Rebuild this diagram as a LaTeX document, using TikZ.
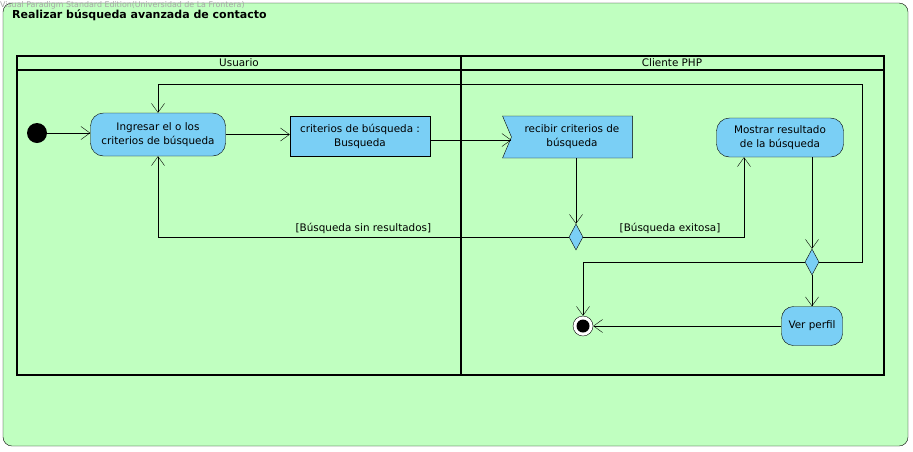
\documentclass[tikz,border=0pt]{standalone}
\usepackage{fontspec}
\setmainfont{DejaVu Sans}
\usetikzlibrary{arrows.meta,shapes.geometric,shapes.symbols}
\definecolor{fondo}{RGB}{192,255,192}
\definecolor{accion}{RGB}{122,207,245}
\tikzset{
    accion/.style ={
        rectangle,
        rounded corners =13pt,
        draw, fill=accion,
        align=center, inner sep=2pt,
        font=\fontsize{10.4}{14}\selectfont
    },
    objeto/.style ={
        rectangle,
        draw, fill=accion,
        align=center, inner sep=2pt,
        font=\fontsize{10.4}{14}\selectfont
    },
    recibe/.style ={
        signal, signal from=west, signal to=nowhere,
        signal pointer angle=134,
        draw, fill=accion,
        align=center,
        font=\fontsize{10.4}{14}\selectfont
    },
    decision/.style ={
        diamond, draw, fill=accion,
        inner sep=0pt, minimum width=14pt, minimum height=26pt
    },
    flecha/.style ={-{Straight Barb[length=9pt,width=13pt]}},
    guarda/.style ={font=\fontsize{10.4}{12}\selectfont, above},
    carril/.style ={line width=1.5pt}
}

\begin{document}
\begin{tikzpicture}[x=1pt,y=-1pt]
        \useasboundingbox (0,0) rectangle (913,451);
        \draw[fill=fondo, rounded corners=9pt] (3,3) rectangle (908,446);
        \node[anchor=north west, inner sep=0pt, text=gray!70, font=\fontsize{7.9}{8}\selectfont] (MARCA) at(0,1) {Visual Paradigm Standard Edition(Universidad de La Frontera)};
        \node[anchor=west, inner sep=0pt, font=\bfseries\fontsize{11}{12}\selectfont] (TITULO) at(12,15) {Realizar búsqueda avanzada de contacto};
        \draw[carril] (17,56) rectangle (884,375);
        \draw[carril] (17,70) -- (884,70);
        \draw[carril] (461,56) -- (461,375);
        \node[font=\fontsize{10.4}{12}\selectfont] (USUARIO) at(239,63) {Usuario};
        \node[font=\fontsize{10.4}{12}\selectfont] (CLIENTE) at(672,63) {Cliente PHP};
        \node[circle, fill, minimum size=20pt, inner sep=0pt] (INICIO) at(37,133) {};
        \node[accion, minimum width=135pt, minimum height=43pt] (INGRESAR) at(158,134.5) {Ingresar el o los\\criterios de búsqueda};
        \node[objeto, minimum width=140pt, minimum height=40pt] (CRITERIOS) at(360,136) {criterios de búsqueda :\\Busqueda};
        \node[recibe, minimum width=130pt, minimum height=42pt, inner xsep=2pt] (RECIBIR) at(572,137) {recibir criterios de\\búsqueda};
        \node[decision] (DEC1) at(576,237) {};
        \node[accion, minimum width=127pt, minimum height=39pt] (MOSTRAR) at(780,137.5) {Mostrar resultado\\de la búsqueda};
        \node[decision] (DEC2) at(812,262) {};
        \node[accion, rounded corners=12pt, minimum width=61pt, minimum height=39pt] (PERFIL) at(812,326) {Ver perfil};
        \node[circle, draw, fill=white, minimum size=20pt, inner sep=0pt] (FINAL) at(583,326) {};
        \fill (FINAL) circle (6.5pt);
        \coordinate (VUELTA) at(862,84);
        \draw[flecha] (INICIO.east) -- (INICIO.east -| INGRESAR.west);
        \draw[flecha] (INGRESAR.east) -- (INGRESAR.east -| CRITERIOS.west);
        \draw[flecha] ([yshift=-4pt]CRITERIOS.east) -- ([yshift=-4pt]CRITERIOS.east -| RECIBIR.west);
        \draw[flecha] (RECIBIR.south -| DEC1) -- (DEC1.north);
        \draw[flecha] (DEC1.west) -| node[guarda, pos=0.25] {[Búsqueda sin resultados]} (INGRESAR.south);
        \draw[flecha] (DEC1.east) -| node[guarda, pos=0.27] {[Búsqueda exitosa]} ([xshift=-36pt]MOSTRAR.south);
        \draw[flecha] (MOSTRAR.south -| DEC2) -- (DEC2.north);
        \draw[flecha] (DEC2.south) -- (PERFIL.north);
        \draw[flecha] (DEC2.west) -| (FINAL.north);
        \draw[flecha] (DEC2.east) -| (VUELTA) -| (INGRESAR.north);
        \draw[flecha] (PERFIL.west) -- (FINAL.east);
    \end{tikzpicture}
\end{document}
